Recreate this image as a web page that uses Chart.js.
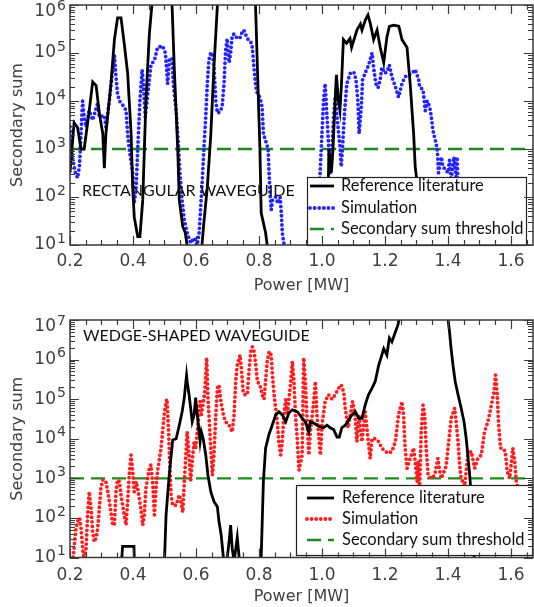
<!DOCTYPE html>
<html>
<head>
<meta charset="utf-8">
<script src="https://cdn.jsdelivr.net/npm/chart.js@4.4.1/dist/chart.umd.min.js"></script>
<style>
  body { margin: 0; background: #fff; width: 534px; height: 607px; overflow: hidden; position: relative; }
  canvas { position: absolute; left: 0; }
  #rectChart { top: 0; }
  #wedgeChart { top: 300px; }
</style>
</head>
<body>
<canvas id="rectChart" width="534" height="300"></canvas>
<canvas id="wedgeChart" width="534" height="307"></canvas>
<script>
// x tick labels (Power, MW) and y decades (exponents of 10)
const powerTicks = [0.2, 0.4, 0.6, 0.8, 1.0, 1.2, 1.4, 1.6];
const rectDecades = [1, 2, 3, 4, 5, 6];
const wedgeDecades = [1, 2, 3, 4, 5, 6, 7];

const thresholdPower = [0.2, 1.67];
const thresholdSum = [1000, 1000];

// ---- rectangular waveguide ----
const rectRefPower = [
  0.200, 0.213, 0.224, 0.235, 0.245, 0.261, 0.272, 0.283, 0.293, 0.304,
  0.309, 0.314, 0.330, 0.341, 0.351, 0.362, 0.372, 0.383, 0.394, 0.399,
  0.404, 0.415, 0.422, 0.431, 0.441, 0.452, 0.460, 0.490, 0.524, 0.531,
  0.542, 0.547, 0.558, 0.566, 0.578, 0.600, 0.615, 0.625, 0.636, 0.647,
  0.657, 0.668, 0.730, 0.789, 0.795, 0.803, 0.807, 0.821, 0.832, 0.920,
  1.016, 1.022, 1.030, 1.035, 1.043, 1.046, 1.052, 1.057, 1.062, 1.068,
  1.078, 1.089, 1.094, 1.111, 1.122, 1.127, 1.138, 1.146, 1.154, 1.164,
  1.175, 1.185, 1.196, 1.206, 1.214, 1.228, 1.244, 1.254, 1.270, 1.280,
  1.291, 1.296, 1.320, 1.340
];
const rectRefSum = [
  3.2e2, 3.5e3, 2.8e3, 1.0e3, 1.0e3, 6.3e3, 2.5e4, 2.1e4, 5.6e3, 2.1e3,
  4.0e2, 2.1e3, 2.3e4, 1.9e5, 5.4e5, 5.4e5, 1.6e5, 3.8e4, 2.1e3, 1.6e2,
  38, 15, 15, 87, 1.0e4, 2.5e5, 1.0e6, 1e8, 1.0e6, 5.0e4,
  1.0e3, 87, 24, 18, 5, 1, 5, 29, 1.6e2, 2.0e3,
  5.0e4, 1.0e6, 1e8, 1.0e6, 5.0e4, 1.0e3, 47, 18, 5, 1,
  5, 1.0e3, 3.2e2, 1.0e3, 1.6e4, 3.5e4, 1.0e4, 6.3e3, 2.3e4, 1.9e5,
  1.6e5, 2.0e5, 1.3e5, 3.0e5, 4.0e5, 3.0e5, 4.9e5, 6.2e5, 4.0e5, 1.9e5,
  3.0e5, 1.3e5, 6.3e4, 2.1e5, 3.6e5, 3.8e5, 3.6e5, 1.9e5, 1.3e5, 2.3e4,
  2.1e3, 4.3e2, 20, 6
];

const rectSimPower = [
  0.200, 0.203, 0.209, 0.217, 0.224, 0.230, 0.235, 0.240, 0.245, 0.251,
  0.261, 0.272, 0.288, 0.293, 0.309, 0.314, 0.325, 0.336, 0.341, 0.346,
  0.351, 0.357, 0.372, 0.378, 0.383, 0.388, 0.399, 0.404, 0.410, 0.415,
  0.422, 0.429, 0.433, 0.439, 0.447, 0.457, 0.468, 0.478, 0.494, 0.503,
  0.510, 0.515, 0.524, 0.528, 0.537, 0.545, 0.549, 0.556, 0.563, 0.572,
  0.583, 0.594, 0.604, 0.610, 0.615, 0.620, 0.625, 0.631, 0.636, 0.641,
  0.647, 0.652, 0.657, 0.663, 0.668, 0.676, 0.683, 0.689, 0.694, 0.699,
  0.705, 0.710, 0.715, 0.721, 0.731, 0.740, 0.747, 0.752, 0.763, 0.774,
  0.779, 0.784, 0.790, 0.795, 0.803, 0.810, 0.814, 0.821, 0.829, 0.832,
  0.835, 0.839, 0.843, 0.853, 0.860, 0.867, 0.871, 0.874, 0.879, 0.900,
  0.950, 0.984, 0.990, 0.995, 1.000, 1.005, 1.010, 1.019, 1.026, 1.032,
  1.037, 1.042, 1.053, 1.058, 1.061, 1.066, 1.072, 1.079, 1.090, 1.101,
  1.108, 1.114, 1.118, 1.125, 1.129, 1.137, 1.148, 1.159, 1.164, 1.171,
  1.178, 1.185, 1.190, 1.199, 1.206, 1.214, 1.222, 1.233, 1.243, 1.254,
  1.264, 1.275, 1.286, 1.296, 1.307, 1.310, 1.321, 1.328, 1.334, 1.342,
  1.347, 1.352, 1.360, 1.366, 1.370, 1.379, 1.384, 1.400, 1.405, 1.410,
  1.419, 1.426, 1.429, 1.437, 1.441
];
const rectSimSum = [
  2.9e3, 1.5e3, 5.9e2, 3.2e2, 2.5e2, 4.3e2, 2.1e3, 1.0e4, 4.7e3, 2.9e3,
  6.3e3, 4.0e3, 9.1e3, 4.7e3, 5.0e3, 2.9e3, 1.0e4, 5.0e4, 9.1e4, 3.2e4,
  1.4e4, 1.0e4, 7.6e3, 6.3e3, 2.1e3, 1.0e3, 3.2e2, 74, 1.6e2, 1.0e3,
  1.0e4, 4.5e4, 2.3e4, 4.7e3, 1.4e4, 5.6e4, 7.1e4, 1.3e5, 1.4e5, 1.0e5,
  2.3e4, 7.1e4, 7.9e4, 2.3e4, 6.3e3, 1.0e3, 3.2e2, 87, 33, 18,
  11, 14, 10, 18, 63, 2.2e2, 1.0e3, 4.7e3, 2.3e4, 7.1e4,
  1.0e5, 1.0e5, 5.0e4, 1.0e4, 5.6e3, 5.9e3, 7.6e3, 2.3e4, 1.1e5, 2.0e5,
  6.3e4, 1.0e5, 2.3e5, 2.5e5, 2.0e5, 2.1e5, 2.8e5, 3.0e5, 2.0e5, 1.7e5,
  1.3e5, 5.0e4, 2.0e4, 1.4e4, 1.2e4, 7.6e3, 2.1e3, 1.5e3, 1.0e3, 3.2e2,
  1.2e2, 54, 87, 1.0e2, 74, 1.0e2, 47, 18, 11, 3,
  9, 10, 87, 4.3e2, 2.1e3, 1.0e4, 2.3e4, 2.1e3, 3.2e2, 1.0e3,
  4.7e3, 1.2e4, 2.1e3, 1.0e3, 4.3e2, 1.3e3, 6.3e3, 2.3e4, 3.8e4, 4.0e4,
  2.8e4, 1.0e4, 2.1e3, 7.6e3, 2.8e4, 3.8e4, 5.6e4, 1.0e5, 5.0e4, 2.3e4,
  1.9e4, 2.8e4, 5.0e4, 3.8e4, 4.0e4, 5.6e4, 3.2e4, 2.0e4, 1.2e4, 2.3e4,
  3.2e4, 3.5e4, 3.8e4, 4.5e4, 2.8e4, 2.0e4, 1.7e4, 6.3e3, 1.0e4, 7.6e3,
  4.7e3, 2.5e3, 1.5e3, 1.0e3, 3.2e2, 6.8e2, 4.3e2, 3.2e2, 5.9e2, 2.2e2,
  6.8e2, 2.6e2, 6.8e2, 13, 8
];

// ---- wedge-shaped waveguide ----
const wedgeRefPower = [
  0.360, 0.367, 0.403, 0.406, 0.490, 0.499, 0.505, 0.515, 0.526, 0.537,
  0.547, 0.556, 0.563, 0.568, 0.570, 0.572, 0.578, 0.583, 0.588, 0.594,
  0.599, 0.604, 0.610, 0.613, 0.617, 0.623, 0.631, 0.638, 0.647, 0.657,
  0.668, 0.673, 0.680, 0.687, 0.695, 0.705, 0.710, 0.715, 0.721, 0.731,
  0.737, 0.743, 0.803, 0.807, 0.814, 0.821, 0.832, 0.842, 0.853, 0.863,
  0.874, 0.885, 0.895, 0.906, 0.922, 0.937, 0.947, 0.958, 0.963, 0.974,
  0.984, 0.995, 1.005, 1.016, 1.026, 1.037, 1.048, 1.055, 1.063, 1.074,
  1.095, 1.106, 1.117, 1.127, 1.137, 1.148, 1.159, 1.169, 1.180, 1.190,
  1.196, 1.206, 1.214, 1.222, 1.233, 1.241, 1.245, 1.320, 1.400, 1.405,
  1.410, 1.416, 1.423, 1.432, 1.442, 1.451, 1.458, 1.463, 1.469, 1.472,
  1.479, 1.486
];
const wedgeRefSum = [
  3, 19, 19, 3, 3, 5, 1.2e2, 1.2e3, 9.3e3, 1.0e4,
  2.2e4, 4.8e4, 1.1e5, 2.8e5, 4.0e5, 2.8e5, 1.3e5, 6.0e4, 2.7e4, 4.0e4,
  1.1e5, 4.0e4, 1.5e4, 8.5e3, 1.5e4, 1.0e4, 3.9e3, 1.2e3, 4.6e2, 2.6e2,
  1.9e2, 81, 37, 10, 5, 25, 66, 17, 8, 32,
  10, 4, 4, 10, 8.3e2, 5.8e3, 1.3e4, 2.2e4, 4.0e4, 4.8e4,
  4.0e4, 2.7e4, 4.5e4, 5.4e4, 4.8e4, 3.3e4, 2.7e4, 1.5e4, 2.7e4, 2.5e4,
  2.2e4, 2.0e4, 1.9e4, 2.2e4, 1.9e4, 1.7e4, 1.1e4, 1.1e4, 1.9e4, 2.2e4,
  4.0e4, 4.8e4, 3.3e4, 3.3e4, 7.1e4, 1.3e5, 1.9e5, 2.8e5, 7.2e5, 1.3e6,
  1.9e6, 1.3e6, 3.5e6, 2.8e6, 5.0e6, 7.4e6, 1.1e7, 1e9, 1.1e7, 5.0e6,
  1.9e6, 7.2e5, 2.8e5, 1.3e5, 5.9e4, 2.7e4, 1.0e4, 3.9e3, 1.2e3, 5.8e2,
  63, 3
];

const wedgeSimPower = [
  0.205, 0.209, 0.214, 0.219, 0.224, 0.230, 0.235, 0.240, 0.245, 0.251,
  0.256, 0.261, 0.267, 0.272, 0.277, 0.283, 0.288, 0.293, 0.298, 0.304,
  0.309, 0.314, 0.320, 0.325, 0.336, 0.341, 0.346, 0.351, 0.357, 0.362,
  0.372, 0.378, 0.383, 0.388, 0.394, 0.399, 0.404, 0.410, 0.415, 0.425,
  0.431, 0.436, 0.441, 0.452, 0.457, 0.463, 0.468, 0.473, 0.478, 0.489,
  0.494, 0.499, 0.505, 0.508, 0.513, 0.517, 0.521, 0.526, 0.537, 0.547,
  0.552, 0.558, 0.563, 0.568, 0.572, 0.578, 0.583, 0.588, 0.594, 0.599,
  0.606, 0.613, 0.617, 0.628, 0.634, 0.638, 0.647, 0.652, 0.657, 0.663,
  0.668, 0.673, 0.678, 0.687, 0.694, 0.705, 0.715, 0.721, 0.726, 0.731,
  0.740, 0.744, 0.750, 0.755, 0.763, 0.768, 0.774, 0.779, 0.784, 0.790,
  0.795, 0.803, 0.810, 0.816, 0.821, 0.826, 0.832, 0.839, 0.842, 0.848,
  0.853, 0.858, 0.863, 0.869, 0.874, 0.879, 0.885, 0.890, 0.901, 0.906,
  0.911, 0.916, 0.922, 0.927, 0.937, 0.942, 0.947, 0.952, 0.958, 0.963,
  0.974, 0.979, 0.984, 0.995, 1.000, 1.010, 1.021, 1.032, 1.042, 1.053,
  1.061, 1.069, 1.074, 1.083, 1.090, 1.097, 1.104, 1.111, 1.117, 1.127,
  1.137, 1.153, 1.159, 1.169, 1.180, 1.190, 1.201, 1.212, 1.222, 1.233,
  1.243, 1.254, 1.259, 1.264, 1.270, 1.280, 1.291, 1.296, 1.302, 1.305,
  1.310, 1.315, 1.321, 1.326, 1.331, 1.337, 1.347, 1.358, 1.368, 1.374,
  1.379, 1.394, 1.405, 1.410, 1.421, 1.426, 1.432, 1.437, 1.442, 1.453,
  1.463, 1.474, 1.485, 1.495, 1.506, 1.516, 1.527, 1.540, 1.546, 1.551,
  1.556, 1.561, 1.567, 1.573, 1.582, 1.588, 1.596, 1.606, 1.612, 1.617,
  1.644, 1.667
];
const wedgeSimSum = [
  6, 8, 21, 55, 81, 1.0e2, 55, 17, 8, 17,
  1.2e2, 4.6e2, 1.7e2, 45, 25, 31, 55, 1.7e2, 5.6e2, 9.1e2,
  9.1e2, 8.3e2, 4.6e2, 2.6e2, 66, 66, 4.6e2, 9.1e2, 8.3e2, 3.8e2,
  1.2e2, 66, 2.6e2, 1.2e3, 3.9e3, 1.5e3, 4.6e2, 8.3e2, 5.6e2, 1.7e2,
  66, 1.2e2, 5.6e2, 1.8e3, 2.2e3, 6.8e2, 1.2e2, 5.6e2, 1.5e3, 5.8e3,
  1.5e4, 4.0e4, 8.7e4, 1.0e5, 1.5e4, 2.2e3, 3.8e2, 2.1e2, 2.1e2, 3.8e2,
  2.6e2, 1.4e2, 8.3e2, 3.9e3, 1.5e4, 3.9e3, 8.3e2, 2.7e3, 8.5e3, 5.8e3,
  2.2e4, 8.7e4, 4.0e4, 1.5e5, 1.1e6, 1.1e5, 5.8e3, 1.2e3, 3.9e3, 4.0e4,
  1.9e5, 2.3e5, 1.0e5, 4.0e4, 2.7e4, 2.2e4, 1.5e4, 4.0e4, 2.8e5, 7.2e5,
  1.3e6, 6.0e5, 1.5e5, 1.3e5, 1.3e5, 4.9e5, 1.6e6, 2.1e6, 1.7e6, 7.2e5,
  2.8e5, 2.3e5, 1.3e5, 1.0e5, 2.8e5, 8.9e5, 1.6e6, 1.3e6, 4.9e5, 1.3e5,
  5.9e4, 2.7e4, 8.5e3, 3.9e3, 8.5e3, 4.0e4, 1.0e5, 4.0e4, 2.8e5, 8.9e5,
  2.8e5, 4.0e4, 8.5e3, 1.6e3, 3.9e3, 1.1e6, 2.8e5, 4.0e4, 3.9e3, 1.5e4,
  8.7e4, 2.8e5, 4.0e4, 3.9e3, 2.2e4, 8.7e4, 1.3e5, 1.0e5, 1.3e5, 1.9e5,
  2.3e5, 1.5e5, 5.9e4, 1.9e4, 4.0e4, 8.7e4, 4.8e4, 8.5e3, 4.0e4, 8.5e3,
  4.8e4, 3.2e3, 1.0e4, 1.0e4, 8.5e3, 5.8e3, 4.8e3, 4.3e3, 4.8e3, 8.5e3,
  4.0e4, 8.7e4, 4.0e4, 5.8e3, 1.8e3, 3.2e3, 5.8e3, 2.6e3, 8.3e2, 2.6e3,
  5.6e2, 1.5e4, 7.1e4, 4.0e4, 5.8e3, 1.2e3, 1.0e3, 1.2e3, 3.2e3, 1.5e3,
  1.0e3, 2.0e3, 1.3e4, 3.3e4, 5.9e4, 2.7e4, 8.5e3, 2.2e3, 1.0e3, 6.3e2,
  3.9e3, 4.8e3, 1.8e3, 3.2e3, 3.9e3, 1.5e4, 2.7e4, 8.7e4, 1.5e5, 4.1e5,
  1.5e5, 2.2e4, 5.8e3, 5.8e3, 4.8e3, 1.5e3, 1.0e3, 5.8e3, 2.6e3, 8.3e2,
  1.0e2, 1.6e2
];

Chart.defaults.font.family = 'DejaVu Sans';
const TEXT = '#404040';

function toPoints(xs, ys) {
  return xs.map((x, i) => ({ x: x, y: ys[i] }));
}

// frame with inward ticks, y labels with superscripts, panel label and legend
const framePlugin = {
  id: 'frame',
  afterDatasetsDraw(chart, args, o) {
    const { ctx, chartArea: a } = chart;
    const xs = chart.scales.x, ys = chart.scales.y;
    ctx.save();

    ctx.fillStyle = '#111';
    ctx.font = '16px Lato';
    ctx.textBaseline = 'middle';
    ctx.fillText(o.title, o.titleX, o.titleY);

    // legend
    const b = o.box;
    ctx.fillStyle = '#fff';
    ctx.fillRect(b[0], b[1], b[2] - b[0], b[3] - b[1]);
    chart.data.datasets.forEach((ds, i) => {
      const ry = b[1] + o.rows[i];
      ctx.beginPath();
      ctx.setLineDash(ds.borderDash || []);
      ctx.lineCap = ds.borderCapStyle || 'butt';
      ctx.lineWidth = ds.borderWidth;
      ctx.strokeStyle = ds.borderColor;
      ctx.moveTo(b[0] + o.sample[0], ry);
      ctx.lineTo(b[0] + o.sample[1], ry);
      ctx.stroke();
      ctx.setLineDash([]);
      ctx.fillStyle = '#111';
      ctx.font = '16.5px Lato';
      ctx.fillText(ds.label, b[0] + o.textX, ry);
    });
    ctx.lineCap = 'butt';
    ctx.strokeStyle = '#222';
    ctx.lineWidth = 1.2;
    ctx.strokeRect(b[0] + 0.5, b[1] + 0.5, b[2] - b[0], b[3] - b[1]);

    // axes box and tick marks
    ctx.strokeStyle = '#3a3a3a';
    ctx.lineWidth = 1.5;
    ctx.strokeRect(a.left, a.top, a.width, a.height);
    ctx.lineWidth = 1.2;
    ctx.beginPath();
    for (let i = 0; xs.min + i * 0.05 <= xs.max + 1e-9; i++) {
      const px = Math.round(xs.getPixelForValue(xs.min + i * 0.05)) + 0.5;
      const len = i % 4 === 0 ? 9 : 5;
      ctx.moveTo(px, a.bottom); ctx.lineTo(px, a.bottom - len);
      ctx.moveTo(px, a.top); ctx.lineTo(px, a.top + len);
    }
    o.decades.forEach(e => {
      for (let m = 1; m <= 9; m++) {
        const v = m * Math.pow(10, e);
        if (v > ys.max * 1.0001) break;
        const py = Math.round(ys.getPixelForValue(v)) + 0.5;
        const len = m === 1 ? 9 : 5;
        ctx.moveTo(a.left, py); ctx.lineTo(a.left + len, py);
        ctx.moveTo(a.right, py); ctx.lineTo(a.right - len, py);
      }
    });
    ctx.stroke();

    // y tick labels 10^n
    ctx.fillStyle = TEXT;
    o.decades.forEach((e, i) => {
      let py = ys.getPixelForValue(Math.pow(10, e));
      if (i === o.decades.length - 1) py += 7;
      ctx.font = '17px "DejaVu Sans"';
      ctx.textAlign = 'right';
      ctx.fillText('10', 56, py);
      ctx.font = '14px "DejaVu Sans"';
      ctx.textAlign = 'left';
      ctx.fillText(String(e), 57, py - 6);
    });
    ctx.restore();
  }
};

function makeChart(id, cfg) {
  return new Chart(document.getElementById(id), {
    type: 'line',
    data: {
      datasets: [{
        label: 'Reference literature',
        data: toPoints(cfg.refPower, cfg.refSum),
        borderColor: '#000',
        borderWidth: 2.8,
        pointRadius: 0
      }, {
        label: 'Simulation',
        data: toPoints(cfg.simPower, cfg.simSum),
        borderColor: cfg.simColor,
        borderWidth: 3.8,
        borderDash: [0, 4.6],
        borderCapStyle: 'round',
        pointRadius: 0
      }, {
        label: 'Secondary sum threshold',
        data: toPoints(thresholdPower, thresholdSum),
        borderColor: '#1f8a1f',
        borderWidth: 2.4,
        borderDash: [14, 7],
        pointRadius: 0
      }]
    },
    options: {
      responsive: false,
      animation: false,
      layout: { padding: { top: cfg.padTop, right: 1, left: 0, bottom: 0 } },
      plugins: {
        legend: { display: false },
        tooltip: { enabled: false },
        frame: cfg.frame
      },
      scales: {
        x: {
          type: 'linear',
          min: 0.2,
          max: 1.67,
          afterBuildTicks: s => { s.ticks = powerTicks.map(v => ({ value: v })); },
          afterFit: s => { s.height = cfg.xHeight; },
          grid: { display: false, drawTicks: false },
          border: { display: false },
          ticks: {
            autoSkip: false,
            maxRotation: 0,
            padding: cfg.tickPad,
            color: TEXT,
            font: { size: 17 },
            callback: v => Number(v).toFixed(1)
          },
          title: {
            display: true,
            text: 'Power [MW]',
            color: TEXT,
            font: { size: 16 },
            padding: { top: 0, bottom: cfg.titlePad }
          }
        },
        y: {
          type: 'logarithmic',
          min: 10,
          max: cfg.yMax,
          afterFit: s => { s.width = 70; },
          grid: { display: false, drawTicks: false },
          border: { display: false },
          ticks: { display: false },
          title: {
            display: true,
            text: 'Secondary sum',
            color: TEXT,
            font: { size: 16 },
            padding: { top: 8, bottom: 0 }
          }
        }
      }
    },
    plugins: [framePlugin]
  });
}

makeChart('rectChart', {
  refPower: rectRefPower, refSum: rectRefSum,
  simPower: rectSimPower, simSum: rectSimSum,
  simColor: '#2323ff',
  yMax: 1e6, padTop: 5, xHeight: 55, tickPad: 6, titlePad: 5,
  frame: {
    title: 'RECTANGULAR WAVEGUIDE', titleX: 82, titleY: 191,
    decades: rectDecades,
    box: [307, 177, 526, 245], rows: [9, 31, 52], sample: [3, 27], textX: 34
  }
});

makeChart('wedgeChart', {
  refPower: wedgeRefPower, refSum: wedgeRefSum,
  simPower: wedgeSimPower, simSum: wedgeSimSum,
  simColor: '#ff1c1c',
  yMax: 1e7, padTop: 20, xHeight: 49.5, tickPad: 8, titlePad: 1,
  frame: {
    title: 'WEDGE-SHAPED WAVEGUIDE', titleX: 83, titleY: 36,
    decades: wedgeDecades,
    box: [296, 185, 532, 255], rows: [13, 34, 55], sample: [11, 38], textX: 46
  }
});
</script>
</body>
</html>
